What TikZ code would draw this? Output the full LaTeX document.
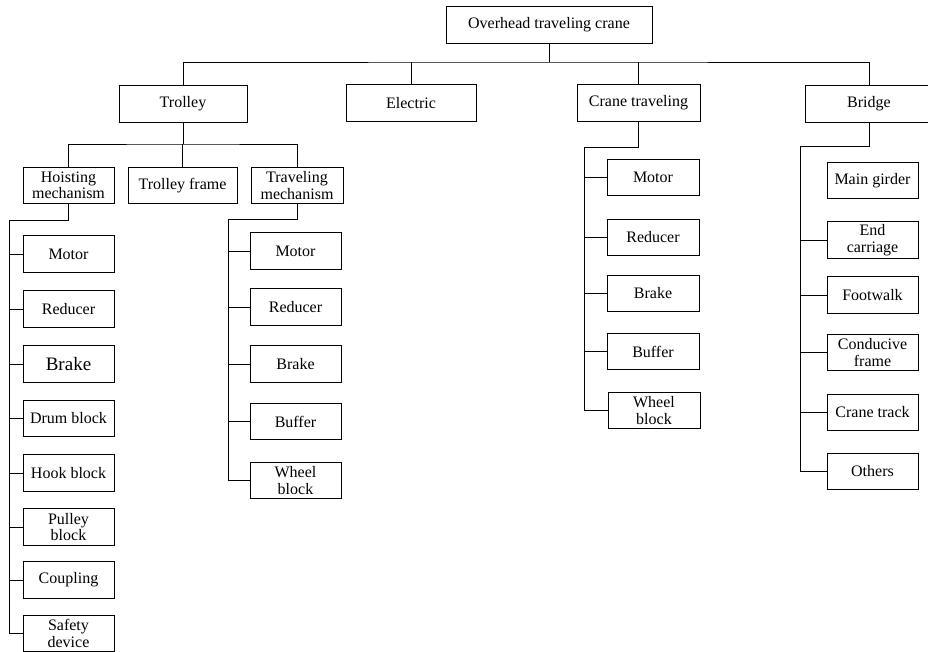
\documentclass[tikz,border=0pt]{standalone}
\usepackage{fontspec}
\setmainfont{Liberation Serif}
\begin{document}
\begin{tikzpicture}[x=1pt,y=-1pt,
  box/.style={draw, line width=0.9pt, inner sep=0pt, align=center, minimum height=36.5pt,
    font=\fontsize{16}{16.5}\selectfont},
  wire/.style={line width=0.9pt}]
\useasboundingbox (0,0) rectangle (928,652);
\clip (0,0) rectangle (928,652);
% level 0
\node[box, minimum width=206pt] (root) at (549,25) {Overhead traveling crane};
% level 1
\node[box, minimum width=128pt] (trolley) at (183,104) {Trolley};
\node[box, minimum width=130pt] (electric) at (411,103) {Electric};
\node[box, minimum width=123pt] (cranetrav) at (638.5,103) {Crane traveling};
\node[box, minimum width=128pt] (bridge) at (869,104) {Bridge};
% level 2 under trolley
\node[box, minimum width=91pt] (hoist) at (68.5,185.5) {Hoisting\\mechanism};
\node[box, minimum width=109pt] (frame) at (182.5,185.5) {Trolley frame};
\node[box, minimum width=92pt] (travmech) at (297,185.5) {Traveling\\mechanism};
% hoisting children
\foreach \n/\y/\t in {hmotor/254/Motor, hreducer/309/Reducer, hdrum/418.5/Drum block, hhook/473/Hook block, hpulley/527/Pulley\\block, hcoupling/580/Coupling, hsafety/633.5/Safety\\device}
  \node[box, minimum width=91pt] (\n) at (68.5,\y) {\t};
\node[box, minimum width=91pt, font=\fontsize{19}{20}\selectfont] (hbrake) at (68.5,364) {Brake};
% traveling mechanism children
\foreach \n/\y/\t in {tmotor/251/Motor, treducer/307/Reducer, tbrake/364/Brake, tbuffer/421.5/Buffer, twheel/480.5/Wheel\\block}
  \node[box, minimum width=91pt] (\n) at (295.5,\y) {\t};
% crane traveling children
\foreach \n/\y/\t in {cmotor/177.5/Motor, creducer/237.5/Reducer, cbrake/293.5/Brake, cbuffer/351.5/Buffer}
  \node[box, minimum width=92pt] (\n) at (653,\y) {\t};
\node[box, minimum width=92pt] (cwheel) at (654,410.5) {Wheel\\block};
% bridge children
\foreach \n/\y/\t in {bgirder/180.5/Main girder, bend/240/End\\carriage, bfoot/295/Footwalk, bframe/352.5/Conducive\\frame, btrack/412.5/Crane track, bothers/471.5/Others}
  \node[box, minimum width=91pt] (\n) at (872.5,\y) {\t};
% connectors level 0 -> 1
\coordinate (b0) at (549,62);
\draw[wire] (root.south) -- (b0);
\draw[wire] (trolley.north) |- (b0) -| (bridge.north);
\draw[wire] (electric.north) -- (electric.north |- b0);
\draw[wire] (cranetrav.north) -- (cranetrav.north |- b0);
% trolley -> level 2
\coordinate (b1) at (183,144);
\draw[wire] (trolley.south) -- (b1);
\draw[wire] (hoist.north) |- (b1) -| (travmech.north);
\draw[wire] (frame.north) -- (frame.north |- b1);
% hoisting
\coordinate (h0) at (9,220);
\draw[wire] (hoist.south) |- (h0) |- (hsafety.west);
\foreach \n in {hmotor, hreducer, hbrake, hdrum, hhook, hpulley, hcoupling}
  \draw[wire] (h0 |- \n.west) -- (\n.west);
% traveling mechanism
\coordinate (t0) at (228,219);
\draw[wire] (travmech.south) |- (t0) |- (twheel.west);
\foreach \n in {tmotor, treducer, tbrake, tbuffer}
  \draw[wire] (t0 |- \n.west) -- (\n.west);
% crane traveling
\coordinate (c0) at (584,147);
\draw[wire] (cranetrav.south) |- (c0) |- (cwheel.west);
\foreach \n in {cmotor, creducer, cbrake, cbuffer}
  \draw[wire] (c0 |- \n.west) -- (\n.west);
% bridge
\coordinate (r0) at (800.5,146);
\draw[wire] (bridge.south) |- (r0) |- (bothers.west);
\foreach \n in {bend, bfoot, bframe, btrack}
  \draw[wire] (r0 |- \n.west) -- (\n.west);
\end{tikzpicture}
\end{document}
